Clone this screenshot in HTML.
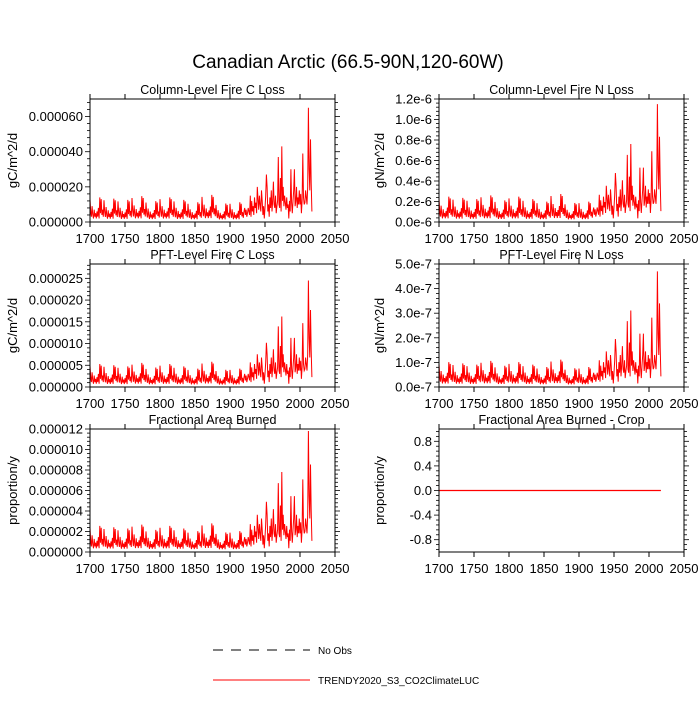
<!DOCTYPE html>
<html><head><meta charset="utf-8"><style>
html,body{margin:0;padding:0;background:#fff}
svg text{font-family:"Liberation Sans",sans-serif;fill:#000}
</style></head><body>
<svg id="c" width="700" height="700" viewBox="0 0 700 700" xmlns="http://www.w3.org/2000/svg">
<text x="348" y="68" font-size="19" text-anchor="middle">Canadian Arctic (66.5-90N,120-60W)</text>
<g>
<line x1="213" y1="650" x2="310" y2="650" stroke="#000" stroke-width="1" stroke-dasharray="10,8"/>
<text x="318" y="654" font-size="10">No Obs</text>
<line x1="213" y1="680" x2="310" y2="680" stroke="#f00" stroke-width="1"/>
<text x="318" y="684" font-size="10">TRENDY2020_S3_CO2ClimateLUC</text>
</g>
</svg>
<script>
// Base series (units 1e-6 gC/m^2/d), 1700-2018
const cycle20 = [13,6,3,9,4,2,7,3,5,2,6,3,8,2,14,5,13,4,7,3];
const recent = [6,8,4,7,3,5,8,6,4,15, 3,12,6,9,4,14,8,11,5,20, 13,7,15,10,6,18,12,4,9,2,
 8,15,27,20,6,10,3,14,8,18, 6,12,23,10,8,15,5,9,12,37, 10,8,25,6,43,12,20,9,15,11,
 7,14,8,10,2,12,6,30,11,5, 12,18,30,9,12,20,8,14,10,18, 10,16,5,12,39,14,10,11,18,14,
 10,20,65,30,18,47,22,6];
const cycleScale = [1,0.95,0.9,1.05,0.85,1,0.9,0.8,1.1,0.75,0.8];
const startYear = 1700;
const panelTitles = ["Column-Level Fire C Loss","Column-Level Fire N Loss","PFT-Level Fire C Loss","PFT-Level Fire N Loss","Fractional Area Burned","Fractional Area Burned - Crop"];
const panelUnits = ["gC/m^2/d","gN/m^2/d","gC/m^2/d","gN/m^2/d","proportion/y","proportion/y"];
const panelPeaks = [65e-6,1.15e-6,24.5e-6,4.7e-7,11.8e-6,0];
const yMins = [0,0,0,0,0,-1];
const yMaxs = [70e-6,1.2e-6,28.3e-6,5e-7,12e-6,1];
const yTickVals = [[0,2e-5,4e-5,6e-5],[0,2e-7,4e-7,6e-7,8e-7,1e-6,1.2e-6],[0,5e-6,1e-5,1.5e-5,2e-5,2.5e-5],[0,1e-7,2e-7,3e-7,4e-7,5e-7],[0,2e-6,4e-6,6e-6,8e-6,1e-5,1.2e-5],[-0.8,-0.4,0,0.4,0.8]];
const yTickLabels = [["0.000000","0.000020","0.000040","0.000060"],["0.0e-6","0.2e-6","0.4e-6","0.6e-6","0.8e-6","1.0e-6","1.2e-6"],["0.000000","0.000005","0.000010","0.000015","0.000020","0.000025"],["0.0e-7","1.0e-7","2.0e-7","3.0e-7","4.0e-7","5.0e-7"],["0.000000","0.000002","0.000004","0.000006","0.000008","0.000010","0.000012"],["-0.8","-0.4","0.0","0.4","0.8"]];
const xTicks = [1700,1750,1800,1850,1900,1950,2000,2050];

let base = [];
for (let i=0;i<11;i++) base = base.concat(cycle20.map(v=>v*cycleScale[i]));
base = base.concat(recent);

const NS="http://www.w3.org/2000/svg";
const svg=document.getElementById('c');
function mk(t,a,p){const e=document.createElementNS(NS,t);for(const k in a)e.setAttribute(k,a[k]);(p||svg).appendChild(e);return e;}
const lefts=[90,439], tops=[99,264,429], W=245, H=123;
for(let p=0;p<6;p++){
  const L=lefts[p%2], T=tops[Math.floor(p/2)], R=L+W, B=T+H;
  const g=mk('g',{});
  
  
  const xs=v=>L+(v-1700)/(2050-1700)*W;
  const ys=v=>B-(v-yMins[p])/(yMaxs[p]-yMins[p])*H;
  let d='';
  base.forEach((v,i)=>{const val=p===5?0:v/65*panelPeaks[p];d+=(i?'L':'M')+xs(startYear+i).toFixed(2)+','+ys(val).toFixed(2);});
  const path=mk('path',{d:d,fill:'none',stroke:'#f00','stroke-width':p===5?1.3:1},g);
  
  
  const fr=mk('rect',{x:L,y:T,width:W,height:H,fill:'none',stroke:'#000','stroke-width':1},g);
  
  
  xTicks.forEach(v=>{const x=xs(v);
    mk('line',{x1:x,y1:B,x2:x,y2:B+5,stroke:'#000'},g);
    mk('line',{x1:x,y1:T,x2:x,y2:T-5,stroke:'#000'},g);
    const t=mk('text',{x:x,y:B+21,'font-size':13,'text-anchor':'middle'},g);t.textContent=v;
    
    
  });
  const tv=yTickVals[p], step=tv[1]-tv[0];
  for(let k=-10;k<200;k++){const v=tv[0]+step*k/5; if(v<yMins[p]-1e-12||v>yMaxs[p]+1e-12)continue;
    const y=ys(v), major=(k%5===0)&&k>=0&&k/5<tv.length, len=major?5:3;
    mk('line',{x1:L,y1:y,x2:L-len,y2:y,stroke:'#000','stroke-width':0.8},g);
    mk('line',{x1:R,y1:y,x2:R+len,y2:y,stroke:'#000','stroke-width':0.8},g);
  }
  tv.forEach((v,i)=>{const t=mk('text',{x:L-7,y:ys(v)+4.5,'font-size':13,'text-anchor':'end'},g);t.textContent=yTickLabels[p][i];
    
    });
  const tt=mk('text',{x:L+W/2,y:T-5,'font-size':12.5,'text-anchor':'middle'},g);tt.textContent=panelTitles[p];
  
  
  const yl=mk('text',{x:0,y:0,'font-size':13,'text-anchor':'middle',transform:`translate(${p%2?384:17},${T+H/2}) rotate(-90)`},g);yl.textContent=panelUnits[p];
  
  
}
</script>
</body></html>
